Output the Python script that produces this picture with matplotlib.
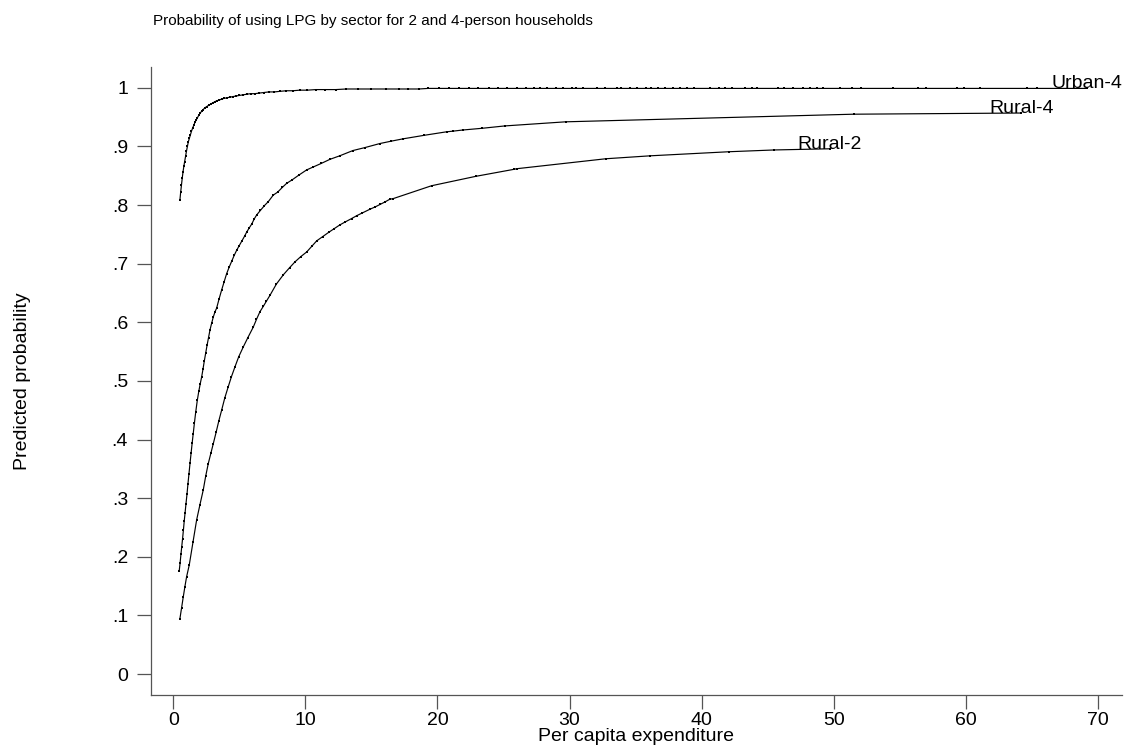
import matplotlib
matplotlib.use("Agg")
import matplotlib.pyplot as plt

plt.rcParams['font.family'] = ['Liberation Sans', 'DejaVu Sans']

# Predicted probabilities (per capita expenditure, probability)
urban4_x = [0.50, 0.56, 0.62, 0.68, 0.74, 0.80, 0.86, 0.93, 1.00, 1.07,
            1.14, 1.22, 1.30, 1.38, 1.46, 1.55, 1.64, 1.73, 1.83, 1.93,
            2.04, 2.15, 2.27, 2.40, 2.53, 2.67, 2.82, 2.97, 3.13, 3.30,
            3.48, 3.67, 3.86, 4.06, 4.28, 4.51, 4.75, 5.00, 5.27, 5.55,
            5.85, 6.17, 6.50, 6.86, 7.24, 7.65, 8.08, 8.55, 9.05, 9.58,
            10.15, 10.8, 11.5, 12.3, 13.1, 14.0, 15.0, 16.1, 17.1, 17.8,
            18.6, 19.3, 20.1, 20.9, 21.6, 22.4, 23.1, 23.9, 24.6, 25.3,
            26.0, 26.7, 27.3, 27.8, 28.3, 29.0, 29.5, 30.2, 30.5, 31.0,
            32.05, 32.7, 33.6, 33.9, 34.6, 35.1, 35.8, 36.2, 36.7, 37.2,
            37.85, 38.4, 38.9, 39.4, 40.6, 41.3, 41.8, 42.3, 43.3, 43.8,
            44.2, 45.8, 46.2, 46.9, 47.7, 48.2, 48.7, 49.2, 50.5, 51.4,
            52.1, 54.5, 56.4, 57.0, 59.3, 59.9, 61.1, 64.6, 65.4, 69.2]
urban4_y = [0.808, 0.822, 0.834, 0.846, 0.857, 0.866, 0.874, 0.883, 0.892, 0.900,
            0.908, 0.914, 0.920, 0.926, 0.931, 0.936, 0.941, 0.945, 0.949, 0.953,
            0.957, 0.960, 0.963, 0.966, 0.968, 0.970, 0.972, 0.974, 0.976, 0.978,
            0.979, 0.981, 0.982, 0.983, 0.984, 0.985, 0.986, 0.987, 0.988, 0.989,
            0.990, 0.990, 0.991, 0.992, 0.993, 0.993, 0.994, 0.995, 0.995, 0.996,
            0.996, 0.997, 0.997, 0.997, 0.998, 0.998, 0.998, 0.998, 0.998, 0.998,
            0.998, 0.999, 0.999, 0.999, 0.999, 0.999, 0.999, 0.999, 0.999, 0.999,
            0.999, 0.999, 0.999, 0.999, 0.999, 0.999, 0.999, 0.999, 0.999, 0.999,
            0.999, 0.999, 0.999, 0.999, 0.999, 0.999, 0.999, 0.999, 0.999, 0.999,
            0.999, 0.999, 0.999, 0.999, 0.999, 0.999, 0.999, 0.999, 0.999, 0.999,
            0.999, 0.999, 0.999, 0.999, 0.999, 0.999, 0.999, 0.999, 0.999, 0.999,
            0.999, 0.999, 0.999, 0.999, 0.999, 0.999, 0.999, 0.999, 0.999, 0.999]

rural4_x = [0.45, 0.52, 0.58, 0.64, 0.70, 0.77, 0.83, 0.89, 0.96, 1.04,
            1.11, 1.19, 1.27, 1.35, 1.43, 1.51, 1.60, 1.70, 1.82, 1.93,
            2.04, 2.15, 2.25, 2.35, 2.45, 2.56, 2.67, 2.78, 2.90, 3.03,
            3.16, 3.28, 3.47, 3.66, 3.85, 4.04, 4.23, 4.42, 4.61, 4.80,
            5.0, 5.2, 5.4, 5.56, 5.75, 5.95, 6.12, 6.31, 6.6, 6.9,
            7.2, 7.57, 7.9, 8.25, 8.58, 9.0, 9.5, 10.1, 10.6, 11.2,
            11.86, 12.6, 13.6, 14.5, 15.65, 16.5, 17.4, 19.0, 20.7, 21.15,
            21.9, 23.4, 25.1, 29.7, 51.5, 64.2]
rural4_y = [0.176, 0.190, 0.204, 0.217, 0.230, 0.246, 0.261, 0.274, 0.290, 0.307,
            0.324, 0.342, 0.360, 0.377, 0.394, 0.410, 0.428, 0.447, 0.467, 0.482,
            0.495, 0.507, 0.520, 0.534, 0.547, 0.561, 0.574, 0.587, 0.598, 0.609,
            0.618, 0.624, 0.640, 0.655, 0.669, 0.683, 0.694, 0.704, 0.714, 0.723,
            0.731, 0.739, 0.747, 0.754, 0.761, 0.768, 0.776, 0.783, 0.791, 0.799,
            0.806, 0.817, 0.822, 0.830, 0.837, 0.843, 0.851, 0.860, 0.865, 0.871,
            0.878, 0.884, 0.893, 0.898, 0.905, 0.909, 0.913, 0.919, 0.925, 0.926,
            0.928, 0.931, 0.935, 0.942, 0.955, 0.957]

rural2_x = [0.50, 0.63, 0.76, 0.88, 1.01, 1.21, 1.50, 1.77, 2.02, 2.27,
            2.45, 2.65, 2.85, 3.03, 3.25, 3.45, 3.66, 3.9, 4.16, 4.4,
            4.67, 4.95, 5.3, 5.65, 6.06, 6.3, 6.56, 6.81, 7.05, 7.32,
            7.8, 8.33, 8.8, 9.21, 9.65, 10.1, 10.5, 10.86, 11.3, 11.8,
            12.2, 12.6, 13.0, 13.5, 13.9, 14.26, 14.9, 15.3, 15.65, 16.0,
            16.4, 16.65, 19.56, 22.9, 25.8, 26.0, 32.75, 36.1, 42.1, 45.5,
            49.7]
rural2_y = [0.094, 0.113, 0.132, 0.149, 0.166, 0.186, 0.226, 0.263, 0.289, 0.314,
            0.337, 0.359, 0.377, 0.393, 0.413, 0.432, 0.450, 0.471, 0.490, 0.507,
            0.524, 0.541, 0.558, 0.574, 0.592, 0.605, 0.618, 0.627, 0.636, 0.646,
            0.665, 0.681, 0.693, 0.703, 0.712, 0.720, 0.730, 0.739, 0.746, 0.754,
            0.760, 0.766, 0.771, 0.777, 0.782, 0.786, 0.793, 0.797, 0.801, 0.805,
            0.810, 0.811, 0.833, 0.849, 0.861, 0.862, 0.879, 0.884, 0.891, 0.894,
            0.896]

series = [(urban4_x, urban4_y, 'Urban-4'),
          (rural4_x, rural4_y, 'Rural-4'),
          (rural2_x, rural2_y, 'Rural-2')]

x_ticks = [0, 10, 20, 30, 40, 50, 60, 70]
y_ticks = [0, 0.1, 0.2, 0.3, 0.4, 0.5, 0.6, 0.7, 0.8, 0.9, 1.0]
y_ticklabels = ['0', '.1', '.2', '.3', '.4', '.5', '.6', '.7', '.8', '.9', '1']

fig = plt.figure(figsize=(11.29, 7.53), dpi=100)
ax = fig.add_axes([0.1337, 0.077, 0.8598, 0.8344])

for xs, ys, name in series:
    ax.plot(xs, ys, color='black', lw=0.85, marker='s', ms=1.9, mew=0)
    # label sits centred above the last point
    ax.annotate(name, (xs[-1], ys[-1]), xytext=(0, 0), textcoords='offset points',
                ha='center', va='baseline', fontsize=14)

ax.set_xlim(-1.69, 71.8)
ax.set_ylim(-0.0358, 1.036)
ax.set_xticks(x_ticks)
ax.set_yticks(y_ticks)
ax.set_yticklabels(y_ticklabels)

for side in ['top', 'right']:
    ax.spines[side].set_visible(False)
for side in ['left', 'bottom']:
    ax.spines[side].set_color('#555555')
    ax.spines[side].set_linewidth(0.9)

ax.tick_params(axis='both', direction='out', length=10, width=0.9,
               color='#555555', labelsize=14)
ax.tick_params(axis='x', pad=2)
ax.tick_params(axis='y', pad=6.5)

ax.set_xlabel('Per capita expenditure', fontsize=14)
ax.xaxis.set_label_coords(0.5, -0.0525)
ax.set_ylabel('Predicted probability', fontsize=14)
ax.yaxis.set_label_coords(-0.1236, 0.5)

fig.text(152.7 / 1129, 1 - 25 / 753,
         'Probability of using LPG by sector for 2 and 4-person households',
         fontsize=11, ha='left', va='baseline')

fig.savefig('out.png', dpi=100)
